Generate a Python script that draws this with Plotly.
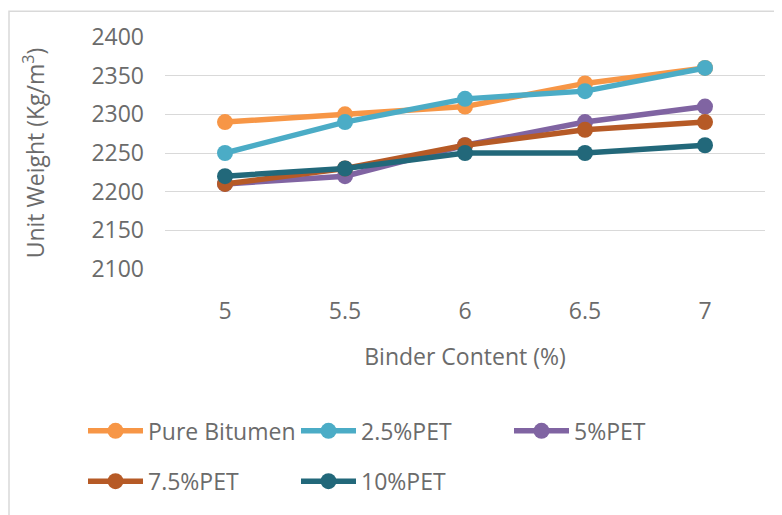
import plotly.graph_objects as go

binder = ["5", "5.5", "6", "6.5", "7"]
pure_bitumen = [2290, 2300, 2310, 2340, 2360]
pet_2_5 = [2250, 2290, 2320, 2330, 2360]
pet_5 = [2210, 2220, 2260, 2290, 2310]
pet_7_5 = [2210, 2230, 2260, 2280, 2290]
pet_10 = [2220, 2230, 2250, 2250, 2260]

series = [
    ("Pure Bitumen", pure_bitumen, "#F79646", "legend"),
    ("2.5%PET", pet_2_5, "#4BACC6", "legend"),
    ("5%PET", pet_5, "#8064A2", "legend"),
    ("7.5%PET", pet_7_5, "#B65A26", "legend2"),
    ("10%PET", pet_10, "#22687A", "legend2"),
]

FONT = "Open Sans"
TXT = "#6b6b6b"
FS = 23

fig = go.Figure()
for name, vals, col, lg in series:
    fig.add_trace(go.Scatter(
        x=binder, y=vals, name=name, mode="lines+markers",
        line=dict(color=col, width=5.5),
        marker=dict(color=col, size=16),
        legend=lg,
    ))

leg_common = dict(
    orientation="h", x=(75 - 157) / 600, xanchor="left", yanchor="middle",
    entrywidth=143, entrywidthmode="pixels", itemwidth=55,
    font=dict(family=FONT, size=FS, color=TXT),
    traceorder="normal", bgcolor="rgba(0,0,0,0)",
)

fig.update_layout(
    width=774, height=507,
    margin=dict(l=157, r=17, t=27, b=245),
    paper_bgcolor="white", plot_bgcolor="white",
    font=dict(family=FONT, color=TXT, size=FS),
    showlegend=True,
    legend=dict(leg_common, y=(262 - 426) / 235),
    legend2=dict(leg_common, y=(262 - 477) / 235),
    xaxis=dict(
        type="category", range=[-0.5, 4.5],
        showgrid=False, zeroline=False, showline=False, ticks="",
        ticklabelstandoff=26,
        tickfont=dict(family=FONT, size=FS, color=TXT),
        title=dict(text="Binder Content (%)", font=dict(family=FONT, size=FS, color=TXT), standoff=23),
    ),
    yaxis=dict(
        range=[2100, 2400], tickvals=[2100, 2150, 2200, 2250, 2300, 2350, 2400],
        showgrid=True, gridcolor="#d9d9d9", gridwidth=1.3,
        zeroline=False, showline=False, ticks="",
        ticklabelstandoff=20,
        tickfont=dict(family=FONT, size=FS, color=TXT),
        title=dict(text="Unit Weight (Kg/m<sup>3</sup>)", font=dict(family=FONT, size=FS, color=TXT), standoff=40),
    ),
)

fig.add_shape(
    type="rect", xref="paper", yref="paper",
    x0=(1 - 157) / 600, x1=(800 - 157) / 600,
    y0=(262 - 530) / 235, y1=(262 - 1) / 235,
    line=dict(color="#d9d9d9", width=1.5), fillcolor="rgba(0,0,0,0)", layer="below",
)

fig.write_html("out.html")
